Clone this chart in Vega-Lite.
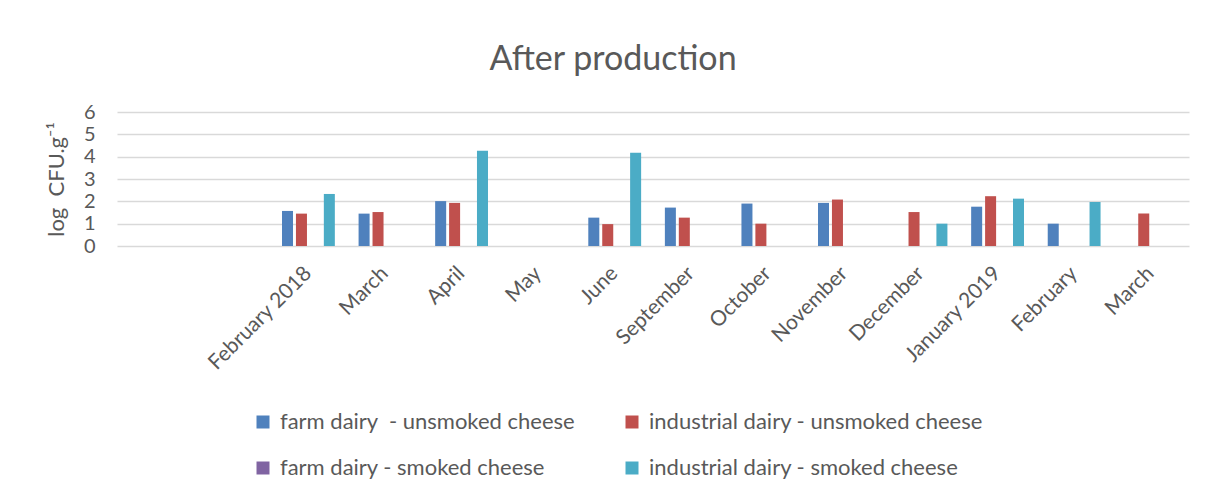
{
  "$schema": "https://vega.github.io/schema/vega-lite/v6.json",
  "autosize": {"type": "none"},
  "width": 1072,
  "height": 134,
  "padding": {"left": 117, "top": 112, "right": 16, "bottom": 251},
  "background": "white",
  "title": {
    "text": "After production",
    "font": "Lato",
    "fontSize": 34,
    "fontWeight": "normal",
    "color": "#595959",
    "anchor": "middle",
    "frame": "group",
    "baseline": "alphabetic",
    "offset": 3,
    "dy": 5,
    "dx": -40
  },
  "data": {
    "values": [
      {"month": "February 2018", "series": "farm dairy\u00a0 - unsmoked cheese", "value": 1.57},
      {"month": "February 2018", "series": "industrial dairy - unsmoked cheese", "value": 1.45},
      {"month": "February 2018", "series": "industrial dairy - smoked cheese", "value": 2.33},
      {"month": "March", "series": "farm dairy\u00a0 - unsmoked cheese", "value": 1.45},
      {"month": "March", "series": "industrial dairy - unsmoked cheese", "value": 1.52},
      {"month": "April", "series": "farm dairy\u00a0 - unsmoked cheese", "value": 2.01},
      {"month": "April", "series": "industrial dairy - unsmoked cheese", "value": 1.93},
      {"month": "April", "series": "industrial dairy - smoked cheese", "value": 4.27},
      {"month": "June", "series": "farm dairy\u00a0 - unsmoked cheese", "value": 1.27},
      {"month": "June", "series": "industrial dairy - unsmoked cheese", "value": 0.98},
      {"month": "June", "series": "industrial dairy - smoked cheese", "value": 4.17},
      {"month": "September", "series": "farm dairy\u00a0 - unsmoked cheese", "value": 1.72},
      {"month": "September", "series": "industrial dairy - unsmoked cheese", "value": 1.27},
      {"month": "October", "series": "farm dairy\u00a0 - unsmoked cheese", "value": 1.9},
      {"month": "October", "series": "industrial dairy - unsmoked cheese", "value": 1.0},
      {"month": "November", "series": "farm dairy\u00a0 - unsmoked cheese", "value": 1.93},
      {"month": "November", "series": "industrial dairy - unsmoked cheese", "value": 2.08},
      {"month": "December", "series": "industrial dairy - unsmoked cheese", "value": 1.52},
      {"month": "December", "series": "industrial dairy - smoked cheese", "value": 1.0},
      {"month": "January 2019", "series": "farm dairy\u00a0 - unsmoked cheese", "value": 1.76},
      {"month": "January 2019", "series": "industrial dairy - unsmoked cheese", "value": 2.23},
      {"month": "January 2019", "series": "industrial dairy - smoked cheese", "value": 2.12},
      {"month": "February", "series": "farm dairy\u00a0 - unsmoked cheese", "value": 1.0},
      {"month": "February", "series": "industrial dairy - smoked cheese", "value": 1.97},
      {"month": "March ", "series": "industrial dairy - unsmoked cheese", "value": 1.45}
    ]
  },
  "mark": {"type": "bar"},
  "encoding": {
    "x": {
      "field": "month",
      "type": "nominal",
      "scale": {
        "domain": [" ", "  ", "February 2018", "March", "April", "May", "June", "September", "October", "November", "December", "January 2019", "February", "March "],
        "paddingInner": 0.31,
        "paddingOuter": 0.155
      },
      "axis": {
        "title": null,
        "labelAngle": -45,
        "labelAlign": "right",
        "labelBaseline": "middle",
        "labelPadding": 24,
        "labelFont": "Lato",
        "labelFontSize": 21,
        "labelColor": "#595959",
        "ticks": false,
        "domain": false,
        "grid": false
      }
    },
    "xOffset": {
      "field": "series",
      "type": "nominal",
      "scale": {
        "domain": ["farm dairy\u00a0 - unsmoked cheese", "industrial dairy - unsmoked cheese", "farm dairy - smoked cheese", "industrial dairy - smoked cheese"],
        "paddingInner": 0.21,
        "paddingOuter": 0
      }
    },
    "y": {
      "field": "value",
      "type": "quantitative",
      "scale": {"domain": [0, 6], "nice": false},
      "axis": {
        "title": "log\u00a0 CFU.g⁻¹",
        "titleFont": "Lato",
        "titleFontSize": 22,
        "titleFontWeight": "normal",
        "titleColor": "#595959",
        "titlePadding": 15,
        "values": [0, 1, 2, 3, 4, 5, 6],
        "labelFont": "Lato",
        "labelFontSize": 20,
        "labelColor": "#595959",
        "labelPadding": 22,
        "ticks": false,
        "domain": false,
        "grid": true,
        "gridColor": "#d9d9d9",
        "gridWidth": 1.5
      }
    },
    "color": {
      "field": "series",
      "type": "nominal",
      "scale": {
        "domain": ["farm dairy\u00a0 - unsmoked cheese", "farm dairy - smoked cheese", "industrial dairy - unsmoked cheese", "industrial dairy - smoked cheese"],
        "range": ["#4f81bd", "#8064a2", "#c0504d", "#4bacc6"]
      },
      "legend": {
        "title": null,
        "orient": "none",
        "legendX": 135,
        "legendY": 299,
        "columns": 2,
        "columnPadding": 46,
        "rowPadding": 24,
        "padding": 0,
        "symbolType": "square",
        "symbolSize": 169,
        "symbolStrokeWidth": 0,
        "labelFont": "Lato",
        "labelFontSize": 22,
        "labelColor": "#595959",
        "labelOffset": 6,
        "labelLimit": 500
      }
    }
  },
  "config": {"view": {"stroke": null}}
}
